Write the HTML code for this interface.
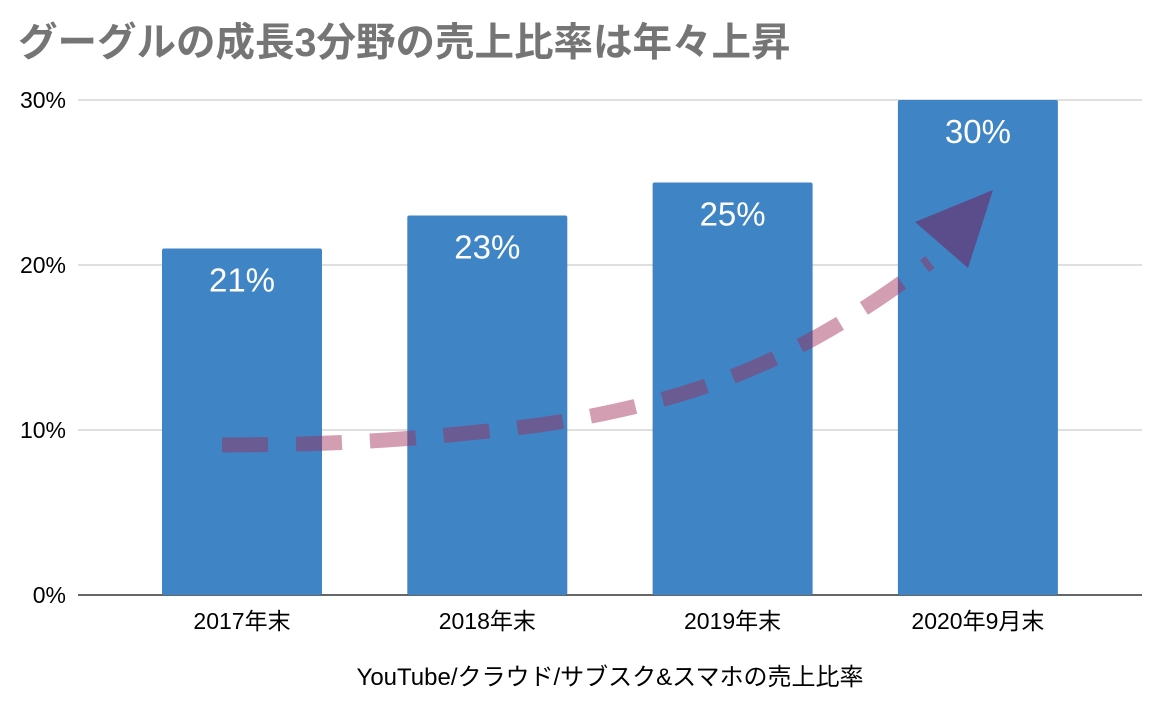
<!DOCTYPE html>
<html><head><meta charset="utf-8">
<style>
html,body{margin:0;padding:0;background:#fff;}
svg{display:block;font-family:"Liberation Sans","Noto Sans CJK JP",sans-serif;}
</style></head>
<body>
<svg id="chart" width="1168" height="712" viewBox="0 0 1168 712" xmlns="http://www.w3.org/2000/svg">
<rect width="1168" height="712" fill="#fff"/>
<text x="18" y="56" font-size="39.5" font-weight="bold" fill="#757575">グーグルの成長3分野の売上比率は年々上昇</text>
<g id="grid"></g>
<g id="bars"></g>
<g id="xlabels"></g>
<text x="610" y="685" font-size="24" text-anchor="middle" fill="#000">YouTube/クラウド/サブスク&amp;スマホの売上比率</text>
<g>
<path d="M222,445 C330,445 420,440 540,425 C700,400 800,360 930,262" fill="none" stroke="rgba(160,40,84,0.45)" stroke-width="15" stroke-dasharray="46,28"/>
<polygon points="915,222 993,190 968,268" fill="rgba(110,40,100,0.6)"/>
</g>
</svg>
<script>
const categories = ["2017年末","2018年末","2019年末","2020年9月末"];
const values = [21,23,25,30];
const yTicks = [0,10,20,30];
const yTickLabels = ["0%","10%","20%","30%"];
const NS="http://www.w3.org/2000/svg";
const y0=595, pxPer=16.5;
function yScale(v){return y0 - v*pxPer;}
function xCenter(i){return 242 + i*245.3;}
const barW=160;
function mk(tag,attrs,parent){const e=document.createElementNS(NS,tag);for(const k in attrs)e.setAttribute(k,attrs[k]);parent.appendChild(e);return e;}
const grid=document.getElementById('grid');
yTicks.forEach((t,i)=>{
  const y=yScale(t);
  const l=mk('line',{x1:78,x2:1142,y1:y,y2:y,stroke:t===0?'#333':'#ccc','stroke-width':t===0?1.5:1.2},grid);
  
  
  const tx=mk('text',{x:66,y:y+8,'font-size':23,'text-anchor':'end',fill:'#000'},grid);
  tx.textContent=yTickLabels[i];
  
  
});
const bars=document.getElementById('bars');
const xl=document.getElementById('xlabels');
values.forEach((v,i)=>{
  const cx=xCenter(i), top=yScale(v);
  const r=mk('rect',{x:cx-barW/2,y:top,width:barW,height:y0-top,fill:'#3f85c6',rx:2},bars);
  
  
  const t=mk('text',{x:cx,y:top+43,'font-size':33,'text-anchor':'middle',fill:'#fff'},bars);
  t.textContent=v+'%';
  
  
  const c=mk('text',{x:cx,y:629,'font-size':23,'text-anchor':'middle',fill:'#000'},xl);
  c.textContent=categories[i];
  
  
});
bars.parentNode.insertBefore(bars, grid.nextSibling);
</script>
</body></html>
